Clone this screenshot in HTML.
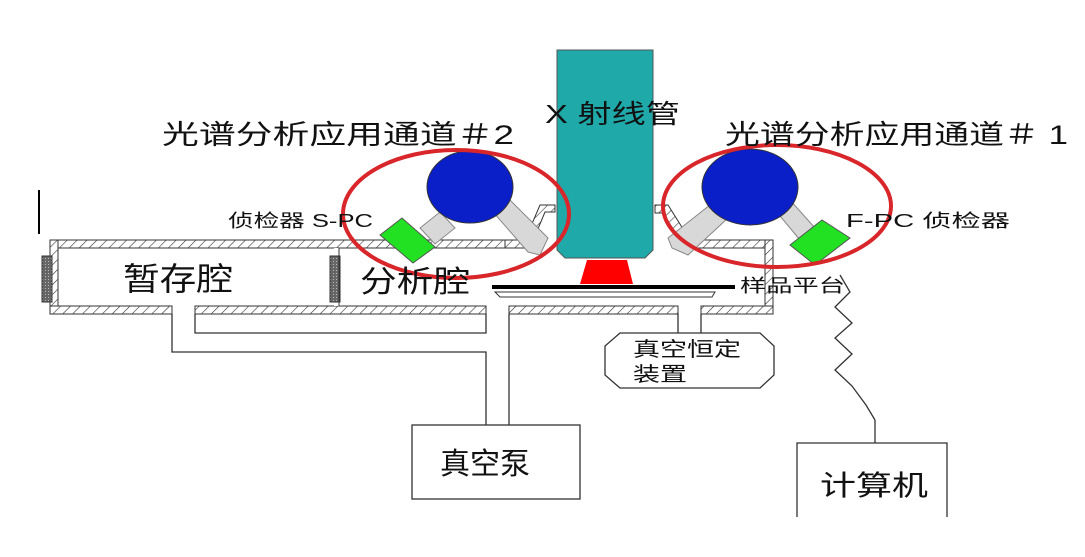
<!DOCTYPE html>
<html><head><meta charset="utf-8"><style>
html,body{margin:0;padding:0;background:#fff;}
svg{display:block;}
text{font-family:"Liberation Sans","Noto Sans CJK SC",sans-serif;fill:#111;}
</style></head><body>
<svg width="1085" height="557" viewBox="0 0 1085 557" xmlns="http://www.w3.org/2000/svg">
<defs>
<pattern id="h" width="7" height="7" patternUnits="userSpaceOnUse" patternTransform="rotate(45)">
<rect width="7" height="7" fill="#fff"/><line x1="0" y1="0" x2="0" y2="7" stroke="#333" stroke-width="1.2"/>
</pattern>
<pattern id="d" width="3" height="3" patternUnits="userSpaceOnUse">
<rect width="3" height="3" fill="#666"/><rect width="1" height="1" fill="#bbb"/>
</pattern>
</defs>
<rect width="1085" height="557" fill="#fff"/>
<line x1="39" y1="190" x2="39" y2="234" stroke="#000" stroke-width="2"/>
<g stroke="#333" stroke-width="1">
<rect x="50" y="240" width="455" height="8" fill="url(#h)"/>
<path d="M505 240 L525 240 L540 205 L555 205 L555 212 L545 212 L530 248 L505 248Z" fill="url(#h)"/>
<path d="M655 205 L668 205 L690 240 L773 240 L773 248 L685 248 L663 213 L655 213Z" fill="url(#h)"/>
<rect x="765" y="240" width="8" height="74" fill="url(#h)"/>
<rect x="50" y="240" width="8" height="74" fill="url(#h)"/>
<rect x="50" y="306" width="122" height="8" fill="url(#h)"/>
<rect x="195" y="306" width="291" height="8" fill="url(#h)"/>
<rect x="509" y="306" width="169" height="8" fill="url(#h)"/>
<rect x="701" y="306" width="72" height="8" fill="url(#h)"/>
<rect x="334" y="248" width="5" height="58" fill="#fff" stroke="none"/>
</g>
<rect x="42" y="256" width="10" height="46" fill="url(#d)" stroke="#333"/>
<rect x="330" y="256" width="10" height="46" fill="url(#d)" stroke="#333"/>
<line x1="339" y1="248" x2="339" y2="306" stroke="#333"/>
<g fill="none" stroke="#333" stroke-width="1.3">
<path d="M172 314 V352 H486 V425"/>
<path d="M195 314 V333 H486 V314"/>
<path d="M509 314 V425"/>
<path d="M678 314 V333 M701 314 V333"/>
</g>
<rect x="412" y="425" width="168" height="74" fill="#fff" stroke="#333" stroke-width="1.3"/>
<text x="440" y="474" font-size="30" textLength="90" lengthAdjust="spacingAndGlyphs">真空泵</text>
<polygon points="620,333 760,333 774,346 774,375 760,388 620,388 605,375 605,346" fill="#fff" stroke="#333" stroke-width="1.3"/>
<text x="633" y="356" font-size="20" textLength="108" lengthAdjust="spacingAndGlyphs">真空恒定</text>
<text x="633" y="381" font-size="20" textLength="54" lengthAdjust="spacingAndGlyphs">装置</text>
<path d="M797 517 V443 H947 V517" fill="none" stroke="#333" stroke-width="1.3"/>
<line x1="875" y1="443" x2="875" y2="420" stroke="#333" stroke-width="1.3"/>
<polyline fill="none" stroke="#333" stroke-width="1.3" points="840,275 850,292 835,307 852,323 835,338 852,354 835,370 852,386 866,405 875,420"/>
<text x="820" y="495" font-size="28" textLength="108" lengthAdjust="spacingAndGlyphs">计算机</text>
<path d="M557 50 H653 V250 L645 258 H565 L557 250Z" fill="#1fa9a9" stroke="#555"/>
<polygon points="587,260 627,260 633,284 580,284" fill="#f00"/>
<line x1="492" y1="287" x2="735" y2="287" stroke="#000" stroke-width="4"/>
<path d="M495 292 H715 L712 297 H500Z" fill="#fff" stroke="#333"/>
<polygon points="420,228 440,212 455,228 435,244" fill="#d8d8d8" stroke="#888"/>
<polygon points="493,212 510,200 548,238 540,255 528,252" fill="#d8d8d8" stroke="#888"/>
<polygon points="380,235 402,218 435,247 413,263" fill="#22e022" stroke="#555"/>
<ellipse cx="470" cy="187" rx="43" ry="36" fill="#0a1fc8" stroke="#333"/>
<ellipse cx="456" cy="214" rx="113" ry="64" fill="none" stroke="#d8262a" stroke-width="4"/>
<polygon points="710,205 728,218 688,255 672,248 668,238" fill="#d8d8d8" stroke="#888"/>
<polygon points="775,210 790,200 815,228 800,240" fill="#d8d8d8" stroke="#888"/>
<polygon points="790,245 822,220 850,238 815,265" fill="#22e022" stroke="#555"/>
<ellipse cx="750" cy="187" rx="48" ry="38" fill="#0a1fc8" stroke="#333"/>
<ellipse cx="777" cy="206" rx="114" ry="61" fill="none" stroke="#d8262a" stroke-width="4"/>
<text x="162" y="144" font-size="27" textLength="352" lengthAdjust="spacingAndGlyphs">光谱分析应用通道＃2</text>
<text x="545" y="123" font-size="26" textLength="135" lengthAdjust="spacingAndGlyphs">X 射线管</text>
<text x="725" y="144" font-size="27" textLength="343" lengthAdjust="spacingAndGlyphs">光谱分析应用通道＃ 1</text>
<text x="228" y="227" font-size="18" textLength="145" lengthAdjust="spacingAndGlyphs">侦检器 S-PC</text>
<text x="846" y="227" font-size="18" textLength="164" lengthAdjust="spacingAndGlyphs">F-PC    侦检器</text>
<text x="740" y="292" font-size="18" textLength="105" lengthAdjust="spacingAndGlyphs">样品平台</text>
<text x="123" y="290" font-size="32" textLength="110" lengthAdjust="spacingAndGlyphs">暂存腔</text>
<text x="360" y="292" font-size="30" textLength="110" lengthAdjust="spacingAndGlyphs">分析腔</text>
</svg>
</body></html>
